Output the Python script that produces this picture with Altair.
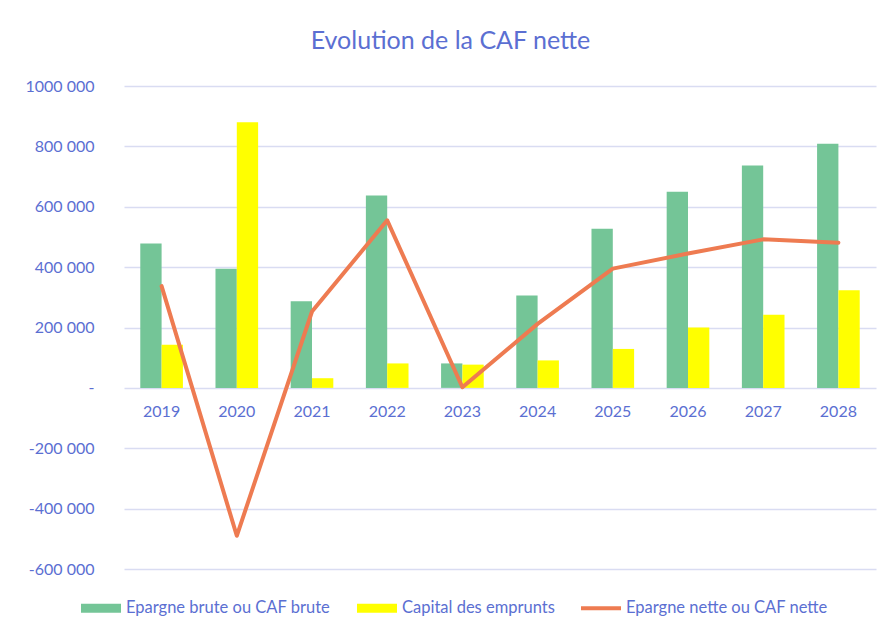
import altair as alt
import pandas as pd

YEARS = ["2019", "2020", "2021", "2022", "2023", "2024", "2025", "2026", "2027", "2028"]
EPARGNE_BRUTE = [478000, 395000, 287000, 637000, 81000, 306000, 527000, 650000, 737000, 809000]
CAPITAL = [143000, 880000, 32000, 81000, 77000, 91000, 129000, 200000, 242000, 323000]
EPARGNE_NETTE = [337000, -490000, 253000, 555000, 2000, 212000, 395000, 445000, 492000, 481000]

SERIES = ["Epargne brute ou CAF brute", "Capital des emprunts", "Epargne nette ou CAF nette"]
COLORS = ["#74C597", "#FFFF00", "#EE7B51"]

Y_TICKS = [-600000, -400000, -200000, 0, 200000, 400000, 600000, 800000, 1000000]
Y_LABELS = ["-600 000", "-400 000", "-200 000", "-", "200 000", "400 000", "600 000", "800 000", "1000 000"]

TITLE = "Evolution de la CAF nette"
TEXT_COLOR = "#5B6FD2"
GRID_COLOR = "#D9DCF2"
FONT = "Lato"

bars_df = pd.DataFrame(
    [{"year": y, "series": SERIES[0], "value": v} for y, v in zip(YEARS, EPARGNE_BRUTE)]
    + [{"year": y, "series": SERIES[1], "value": v} for y, v in zip(YEARS, CAPITAL)]
)
line_df = pd.DataFrame({"year": YEARS, "value": EPARGNE_NETTE})
years_df = pd.DataFrame({"year": YEARS})

label_expr = ""
for t, l in zip(Y_TICKS, Y_LABELS):
    label_expr += f"datum.value == {t} ? '{l}' : "
label_expr += "''"

x_enc = alt.X("year:N", sort=YEARS,
              scale=alt.Scale(domain=YEARS, paddingInner=0.433, paddingOuter=0.2165),
              axis=None)
y_scale = alt.Scale(domain=[-600000, 1000000], nice=False, zero=False)

line_shape = "M-1,-0.1H1V0.1H-1Z"
box_shape = "M-1,-0.22H1V0.22H-1Z"
shape_expr = f"datum.label == '{SERIES[2]}' ? '{line_shape}' : '{box_shape}'"

bars = alt.Chart(bars_df).mark_bar().encode(
    x=x_enc,
    xOffset=alt.XOffset("series:N", sort=SERIES[:2],
                        scale=alt.Scale(domain=SERIES[:2], paddingInner=0, paddingOuter=0)),
    y=alt.Y("value:Q", scale=y_scale, title=None,
            axis=alt.Axis(values=Y_TICKS, labelExpr=label_expr, grid=True,
                          gridColor=GRID_COLOR, gridWidth=1.5, domain=False, ticks=False,
                          labelPadding=30, labelFont=FONT, labelFontSize=16,
                          labelColor=TEXT_COLOR)),
    color=alt.Color("series:N",
                    scale=alt.Scale(domain=SERIES, range=COLORS),
                    legend=alt.Legend(
                        title=None, orient="none", legendX=-43, legendY=502,
                        direction="horizontal", symbolSize=1600,
                        symbolType={"expr": shape_expr},
                        symbolStrokeWidth=0, labelFont=FONT, labelFontSize=16.5,
                        labelColor=TEXT_COLOR, labelOffset=5, columnPadding=26,
                        labelLimit=400,
                    )),
)

line = alt.Chart(line_df).mark_line(
    color=COLORS[2], strokeWidth=4, strokeCap="round", strokeJoin="round"
).encode(
    x=x_enc,
    y=alt.Y("value:Q", scale=y_scale),
)

labels = alt.Chart(years_df).mark_text(
    dy=24, fontSize=16, font=FONT, color=TEXT_COLOR
).encode(
    x=x_enc,
    y=alt.datum(0),
    text="year:N",
)

chart = alt.layer(bars, labels, line).properties(
    width=752,
    height=483,
    title=alt.TitleParams(TITLE, anchor="middle", frame="bounds", font=FONT,
                          fontSize=25, fontWeight="normal", color=TEXT_COLOR, offset=24),
    padding={"left": 116, "top": 78, "right": 3, "bottom": 55},
    autosize=alt.AutoSizeParams(type="none"),
    background="white",
).configure_view(stroke=None)

chart.save("out.html", embed_options={"renderer": "svg", "actions": False})
